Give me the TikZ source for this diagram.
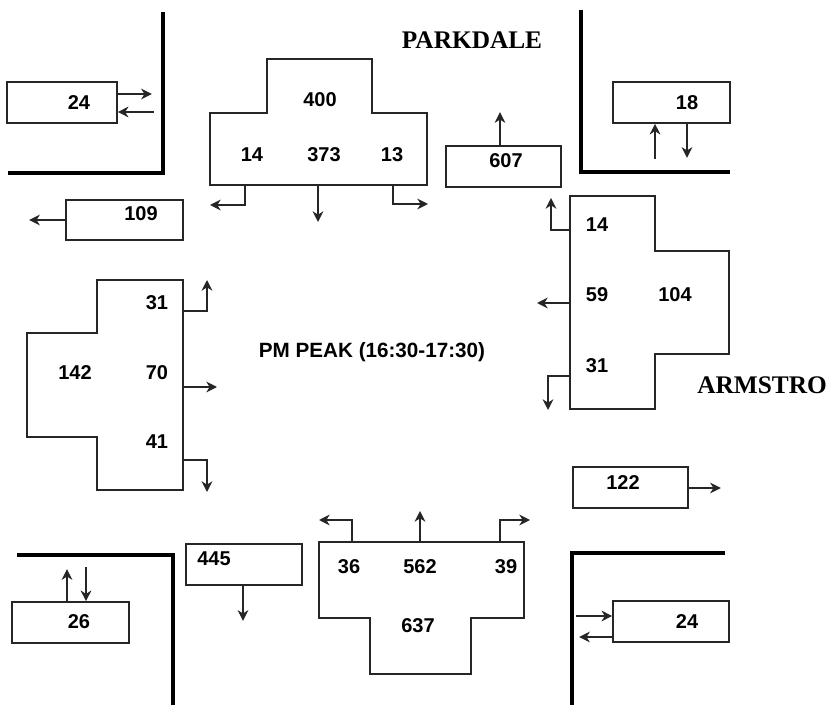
\documentclass[tikz,border=0pt]{standalone}
\usepackage{fontspec}
\setmainfont{Liberation Serif}
\setsansfont{Liberation Sans}
\usetikzlibrary{arrows.meta,fit}
\tikzset{
  kerb/.style={line width=2.6pt, line join=miter},
  lane/.style={line width=1.2pt, draw=black!85},
  box/.style={draw=black!85, line width=1.2pt, inner sep=0pt},
  flow/.style={line width=1.2pt, draw=black!85, -{Stealth[length=8pt,width=8pt,inset=2.5pt]}},
  flowin/.style={line width=1.2pt, draw=black!85, {Stealth[length=8pt,width=8pt,inset=2.5pt]}-},
  count/.style={font=\sffamily\bfseries\fontsize{15}{17}\selectfont, inner sep=0pt},
  street/.style={font=\bfseries\fontsize{19}{22}\selectfont, inner sep=0pt},
}
\begin{document}
\begin{tikzpicture}[x=0.75pt, y=-0.75pt]
\useasboundingbox (0,0) rectangle (828,705);

% kerb corners
\draw[kerb] (8,173) -- (163,173) -- (163,12);
\draw[kerb] (581,10) -- (581,172) -- (730,172);
\draw[kerb] (17,555) -- (173,555) -- (173,705);
\draw[kerb] (725,553) -- (572,553) -- (572,705);

% street names and title
\node[street] (parkdale) at (472,40) {PARKDALE};
\node[street, anchor=west] (armstro) at (697,385) {ARMSTRO};
\node[count, font=\sffamily\bfseries\fontsize{15.5}{17}\selectfont] (title) at (372,352) {PM PEAK (16:30-17:30)};

% north approach
\draw[lane] (210,113) -- (267,113) -- (267,59) -- (372,59) -- (372,113)
  -- (427,113) -- (427,185) -- (210,185) -- cycle;
\node[count] (ntot) at (320,100) {400};
\node[count] (nleft) at (252,155) {14};
\node[count] (nthru) at (324,155) {373};
\node[count] (nright) at (392,155) {13};
\coordinate (nL) at (245,185);
\coordinate (nT) at (318,185);
\coordinate (nR) at (393,185);
\draw[flow] (nL) |- ++(-35,20);
\draw[flow] (nT) -- ++(0,37);
\draw[flow] (nR) |- ++(35,19);

% east approach
\draw[lane] (570,196) -- (655,196) -- (655,251) -- (729,251) -- (729,354)
  -- (655,354) -- (655,409) -- (570,409) -- cycle;
\node[count] (eright) at (597,225) {14};
\node[count] (ethru) at (597,295) {59};
\node[count] (etot) at (675,295) {104};
\node[count] (eleft) at (597,366) {31};
\coordinate (eT) at (570,230);
\coordinate (eM) at (570,303);
\coordinate (eB) at (570,376);
\draw[flow] (eT) -| ++(-19,-32);
\draw[flow] (eM) -- ++(-33,0);
\draw[flow] (eB) -| ++(-22,34);

% west approach
\draw[lane] (97,280) -- (183,280) -- (183,490) -- (97,490) -- (97,437)
  -- (27,437) -- (27,333) -- (97,333) -- cycle;
\node[count] (wleft) at (157,303) {31};
\node[count] (wtot) at (75,373) {142};
\node[count] (wthru) at (157,373) {70};
\node[count] (wright) at (157,442) {41};
\coordinate (wT) at (183,311);
\coordinate (wM) at (183,387);
\coordinate (wB) at (183,460);
\draw[flow] (wT) -| ++(24,-31);
\draw[flow] (wM) -- ++(34,0);
\draw[flow] (wB) -| ++(24,32);

% south approach
\draw[lane] (319,542) -- (524,542) -- (524,618) -- (471,618) -- (471,674)
  -- (370,674) -- (370,618) -- (319,618) -- cycle;
\node[count] (sleft) at (349,567) {36};
\node[count] (sthru) at (420,567) {562};
\node[count] (sright) at (506,567) {39};
\node[count] (stot) at (418,626) {637};
\coordinate (sL) at (352,542);
\coordinate (sM) at (420,542);
\coordinate (sR) at (500,542);
\draw[flow] (sL) |- ++(-33,-22);
\draw[flow] (sM) -- ++(0,-31);
\draw[flow] (sR) |- ++(30,-22);

% departures
\node[box, fit={(446,146) (561,187)}] (nexit) {};
\node[count] (nexitval) at (506,161) {607};
\draw[flow] (nexit.north -| 500,0) -- ++(0,-33);

\node[box, fit={(66,200) (183,240)}] (wexit) {};
\node[count] (wexitval) at (141,214) {109};
\draw[flow] (wexit.west |- 0,220) -- ++(-36,0);

\node[box, fit={(573,467) (688,508)}] (eexit) {};
\node[count] (eexitval) at (623,483) {122};
\draw[flow] (eexit.east |- 0,488) -- ++(32,0);

\node[box, fit={(186,544) (302,585)}] (sexit) {};
\node[count] (sexitval) at (214,559) {445};
\draw[flow] (sexit.south -| 243,0) -- ++(0,35);

% corner movements
\node[box, fit={(7,82) (117,123)}] (nwbox) {};
\node[count] (nwval) at (79,103) {24};
\draw[flow] (nwbox.east |- 0,94) -- ++(34,0);
\draw[flowin] (nwbox.east |- 0,112) -- ++(36,0);

\node[box, fit={(613,82) (730,123)}] (nebox) {};
\node[count] (neval) at (687,103) {18};
\draw[flowin] (nebox.south -| 655,0) -- ++(0,35);
\draw[flow] (nebox.south -| 687,0) -- ++(0,34);

\node[box, fit={(12,602) (129,643)}] (swbox) {};
\node[count] (swval) at (79,622) {26};
\draw[flow] (swbox.north -| 67,0) -- ++(0,-32);
\draw[flowin] (swbox.north -| 86,0) -- ++(0,-34);

\node[box, fit={(613,601) (729,642)}] (sebox) {};
\node[count] (seval) at (687,622) {24};
\draw[flowin] (sebox.west |- 0,616) -- ++(-36,0);
\draw[flow] (sebox.west |- 0,637) -- ++(-33,0);
\end{tikzpicture}
\end{document}
